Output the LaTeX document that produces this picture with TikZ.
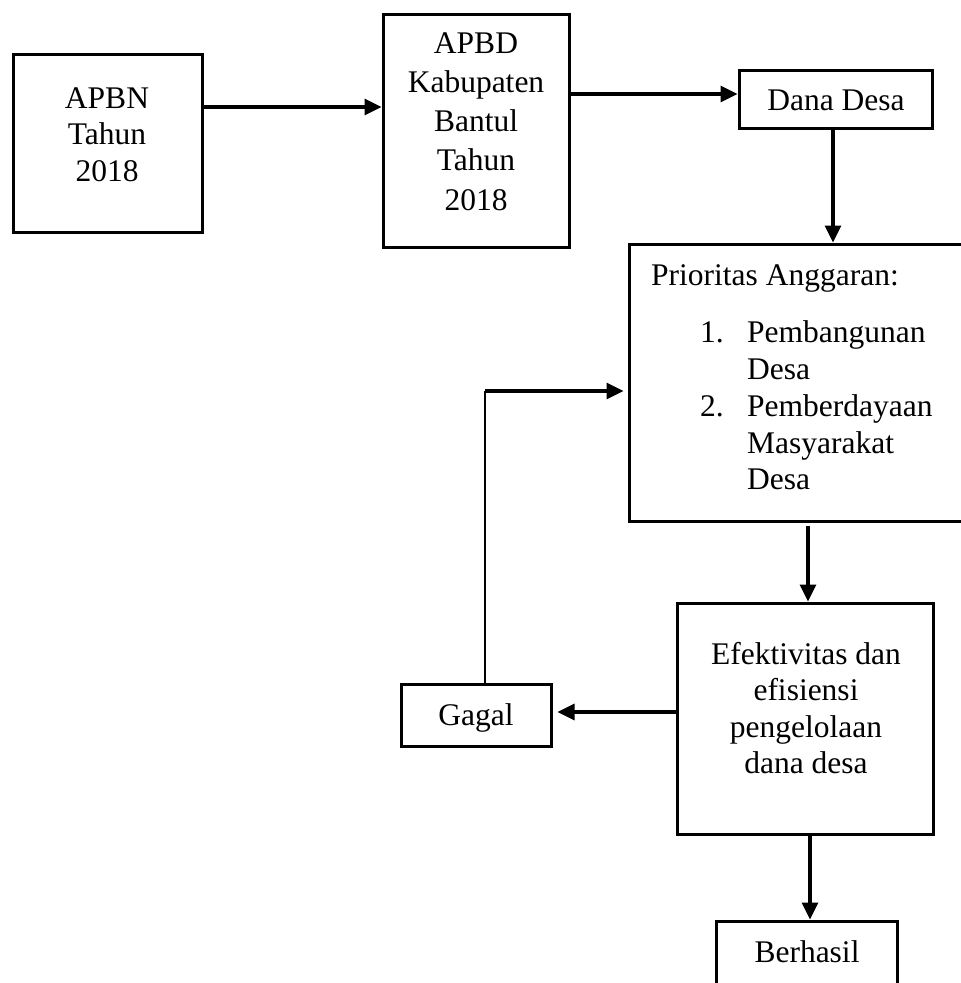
\documentclass[tikz,border=0pt]{standalone}
\usepackage{fontspec}
\setmainfont{Liberation Serif}
\usetikzlibrary{arrows.meta}
\newcommand{\ctext}[1]{\begin{tabular}[t]{@{}c@{}}#1\end{tabular}}
\begin{document}
\begin{tikzpicture}[x=1pt,y=-1pt,
  box/.style={draw, line width=3pt, inner sep=0pt},
  txt/.style={inner sep=0pt, anchor=base, font=\fontsize{31.5}{36.7}\selectfont},
  arr/.style={line width=3.2pt, -{Triangle[length=17pt,width=16pt]}},
  thinline/.style={line width=1.4pt}]
\useasboundingbox (0,0) rectangle (961,983);
\clip (0,0) rectangle (961,983);

% boxes
\node[box, minimum width=189pt, minimum height=178pt] (apbn) at (107.5,143) {};
\node[box, minimum width=186pt, minimum height=233pt] (apbd) at (476,130.5) {};
\node[box, minimum width=193pt, minimum height=58pt] (dana) at (835.5,99) {};
\node[box, minimum width=336pt, minimum height=277pt] (prio) at (797,382.5) {};
\node[box, minimum width=256pt, minimum height=231pt] (efek) at (805,718.5) {};
\node[box, minimum width=150pt, minimum height=62pt] (gagal) at (476,715) {};
\node[box, minimum width=181pt, minimum height=80pt] (berhasil) at (806.5,961) {};

% texts
\node[txt] (apbnT) at (107,108) {\ctext{APBN\\Tahun\\2018}};
\node[txt, font=\fontsize{31.5}{39.3}\selectfont] (apbdT) at (476,53) {\ctext{APBD\\Kabupaten\\Bantul\\Tahun\\2018}};
\node[txt] (danaT) at (836,110) {Dana Desa};
\node[txt, anchor=base west] (prioT) at (651,285) {Prioritas Anggaran:};
\node[txt, anchor=base west, font=\fontsize{31.5}{36.8}\selectfont] (prioL) at (700,342.7)
  {\begin{tabular}[t]{@{}p{47pt}@{}l@{}}1.&Pembangunan\\&Desa\\2.&Pemberdayaan\\&Masyarakat\\&Desa\end{tabular}};
\node[txt, font=\fontsize{31.5}{36.5}\selectfont] (efekT) at (806,664) {\ctext{Efektivitas dan\\efisiensi\\pengelolaan\\dana desa}};
\node[txt] (gagalT) at (476,725) {Gagal};
\node[txt] (berhasilT) at (807,962) {Berhasil};

% connectors
\draw[arr] ([yshift=36pt]apbn.east) coordinate (a1) -- (apbd.west |- a1);
\draw[arr] ([yshift=36.5pt]apbd.east) coordinate (a2) -- (dana.west |- a2);
\coordinate (a3) at ([xshift=-2.5pt]dana.south);
\draw[arr] (a3) -- (a3 |- prio.north);
\coordinate (p1) at ([xshift=3pt]efek.north);
\draw[arr, shorten <=3pt] (p1 |- prio.south) -- (p1);
\coordinate (p2) at ([yshift=6.5pt]efek.west);
\draw[arr, shorten >=5pt] (p2) -- (gagal.east |- p2);
\coordinate (p3) at ([xshift=5pt]efek.south);
\draw[arr] (p3) -- (p3 |- berhasil.north);
\coordinate (g1) at ([xshift=9pt]gagal.north);
\coordinate (fby) at (0,391);
\draw[thinline] (g1) -- (g1 |- fby);
\draw[arr, shorten >=4pt] (g1 |- fby) -- (prio.west |- fby);
\end{tikzpicture}
\end{document}
